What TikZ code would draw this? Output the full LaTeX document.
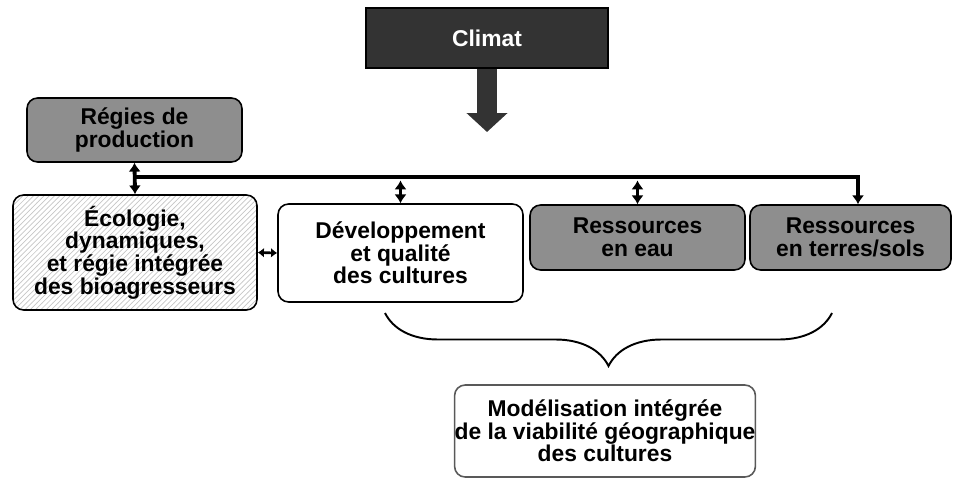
\documentclass[tikz,border=0pt]{standalone}
\usepackage{fontspec}
\setmainfont{Liberation Sans}
\usetikzlibrary{arrows.meta}
\usetikzlibrary{patterns}
\usetikzlibrary{decorations.pathreplacing}
\definecolor{boxgray}{HTML}{8E8E8E}
\definecolor{darkbox}{HTML}{333333}
\tikzset{cell/.style={rectangle, rounded corners=6pt, line width=0.9pt, draw,
   align=center, inner sep=0pt,
   font=\fontsize{13}{12.9}\selectfont\bfseries}}
\tikzset{greycell/.style={cell, fill=boxgray}}
\tikzset{link/.style={line width=2.2pt,
   {Latex[length=5pt,width=7pt]}-{Latex[length=5pt,width=7pt]}}}
\tikzset{brace/.style={decorate, decoration={brace, amplitude=1.06cm}, line width=1.1pt}}

\begin{document}
\begin{tikzpicture}[x=0.02cm, y=-0.02cm]

    \useasboundingbox (0,0) rectangle (955,477);

    \node[cell, rounded corners=0pt, fill=darkbox, text=white,
          minimum width=4.84cm, minimum height=1.2cm] (climat) at (487,38) {Climat};

    \node[greycell, minimum width=4.3cm, minimum height=1.28cm] (regies) at (134.5,130)
        {Régies de\\ production};
    \node[cell, pattern=north east lines, pattern color=gray!45,
          minimum width=4.88cm, minimum height=2.3cm] (ecologie) at (135,252.5)
        {Écologie,\\ dynamiques,\\ et régie intégrée\\ des bioagresseurs};
    \node[cell, fill=white, minimum width=4.9cm, minimum height=1.96cm] (dev) at (400.5,253)
        {Développement\\ et qualité\\ des cultures};
    \node[greycell, minimum width=4.3cm, minimum height=1.3cm] (eau) at (637.5,237.5)
        {Ressources\\ en eau};
    \node[greycell, minimum width=4.02cm, minimum height=1.3cm] (terres) at (850.5,237.5)
        {Ressources\\ en terres/sols};

    \node[cell, draw=gray!70!black, fill=white, minimum width=6cm, minimum height=1.84cm]
        (model) at (605,431)
        {Modélisation intégrée\\ de la viabilité géographique\\ des cultures};

    \coordinate (climtip) at (487,132);
    \draw[darkbox, line width=0.4cm, -{Triangle[width=0.8cm,length=0.38cm]}]
        (climat.south) -- (climtip);

    \coordinate (busL) at (134.5,177);
    \coordinate (busR) at (858,177);
    \draw[line width=2.4pt, -{Latex[length=5pt,width=7pt]}]
        (busL) -- (busR) -- (terres.north -| busR);

    \draw[link] (regies.south) -- (ecologie.north);
    \draw[link, shorten <=2pt] (dev.north |- busL) -- (dev.north);
    \draw[link, shorten <=2pt] (eau.north |- busL) -- (eau.north);
    \draw[line width=1.5pt, {Latex[length=3.5pt,width=5.5pt]}-{Latex[length=3.5pt,width=5.5pt]}]
        (ecologie.east) -- (dev.west);

    \coordinate (braceL) at (385,313);
    \coordinate (braceR) at (832,313);
    \draw[brace] (braceR) -- (braceL);

\end{tikzpicture}
\end{document}
